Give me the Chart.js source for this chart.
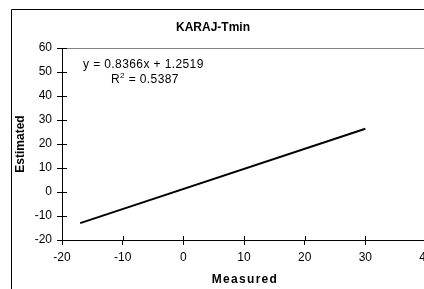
<!DOCTYPE html>
<html>
<head>
<meta charset="utf-8">
<script src="https://cdn.jsdelivr.net/npm/chart.js@4/dist/chart.umd.min.js"></script>
<style>
  html, body { margin: 0; padding: 0; background: #fff; overflow: hidden; }
  #wrap { width: 444px; height: 289px; }
</style>
</head>
<body>
<div id="wrap"><canvas id="chart"></canvas></div>
<script>
/* Trend line end points */
const measured = [-17, 30];
const estimated = [-12.97, 26.35];

const xTicks = [-20, -10, 0, 10, 20, 30, 40];
const yTicks = [-20, -10, 0, 10, 20, 30, 40, 50, 60];

const equationText = 'y = 0.8366x + 1.2519';
const r2Value = '0.5387';

const FONT = "'Liberation Sans', Arial, sans-serif";

/* Excel style frame, crossing tick marks, equation and x title */
const excelDecor = {
    id: 'excelDecor',
    beforeDraw(chart) {
        const ctx = chart.ctx;
        ctx.save();
        ctx.strokeStyle = '#000';
        ctx.lineWidth = 1;
        ctx.beginPath();
        ctx.moveTo(11.5, chart.height + 2);
        ctx.lineTo(11.5, 9.5);
        ctx.lineTo(chart.width + 2, 9.5);
        ctx.stroke();
        ctx.restore();
    },
    afterDraw(chart) {
        const ctx = chart.ctx;
        const area = chart.chartArea;
        const xs = chart.scales.x;
        const ys = chart.scales.y;
        ctx.save();

        // plot area top / right border
        ctx.strokeStyle = '#808080';
        ctx.lineWidth = 1;
        ctx.beginPath();
        ctx.moveTo(Math.round(area.left) + 0.5, Math.round(area.top) + 0.5);
        ctx.lineTo(Math.round(area.right) + 0.5, Math.round(area.top) + 0.5);
        ctx.lineTo(Math.round(area.right) + 0.5, Math.round(area.bottom) + 0.5);
        ctx.stroke();

        // inner halves of the crossing tick marks
        ctx.strokeStyle = '#000';
        ctx.beginPath();
        yTicks.forEach(v => {
            const py = Math.round(ys.getPixelForValue(v)) + 0.5;
            ctx.moveTo(Math.round(area.left), py);
            ctx.lineTo(Math.round(area.left) + 5, py);
        });
        xTicks.forEach(v => {
            const px = Math.round(xs.getPixelForValue(v)) + 0.5;
            ctx.moveTo(px, Math.round(area.bottom));
            ctx.lineTo(px, Math.round(area.bottom) - 4);
        });
        ctx.stroke();

        // regression equation
        ctx.fillStyle = '#000';
        ctx.textBaseline = 'middle';
        ctx.textAlign = 'left';
        ctx.letterSpacing = '0.4px';
        ctx.font = '12px ' + FONT;
        ctx.fillText(equationText, 83, 65);
        let x = 111;
        ctx.fillText('R', x, 80);
        x += ctx.measureText('R').width;
        ctx.font = '8px ' + FONT;
        ctx.fillText('2', x, 76);
        x += ctx.measureText('2').width;
        ctx.font = '12px ' + FONT;
        ctx.fillText(' = ' + r2Value, x, 80);

        // x axis title with wide letter spacing
        ctx.font = 'bold 12px ' + FONT;
        ctx.textAlign = 'center';
        ctx.letterSpacing = '1.3px';
        ctx.fillText('Measured', (area.left + area.right) / 2 + 1, 280);
        ctx.restore();
    }
};

new Chart(document.getElementById('chart'), {
    type: 'scatter',
    data: {
        datasets: [{
            label: 'Trend',
            data: measured.map((m, i) => ({ x: m, y: estimated[i] })),
            showLine: true,
            borderColor: '#000',
            borderWidth: 2,
            pointRadius: 0,
            fill: false,
        }],
    },
    options: {
        responsive: true,
        maintainAspectRatio: false,
        animation: false,
        layout: { padding: { left: 0, right: 18, top: 0, bottom: 0 } },
        plugins: {
            legend: { display: false },
            tooltip: { enabled: false },
            title: {
                display: true,
                text: 'KARAJ-Tmin',
                color: '#000',
                font: { family: FONT, size: 12, weight: 'bold' },
                padding: { top: 20.8, bottom: 12.8 },
            },
        },
        scales: {
            x: {
                type: 'linear',
                min: -20,
                max: 40,
                afterBuildTicks: s => { s.ticks = xTicks.map(v => ({ value: v })); },
                afterFit: s => { s.height = 49; },
                grid: { drawOnChartArea: false, color: '#000', tickLength: 5 },
                border: { display: true, color: '#000', width: 1 },
                ticks: {
                    color: '#000',
                    font: { family: FONT, size: 12 },
                    padding: 5,
                    maxRotation: 0,
                },
            },
            y: {
                type: 'linear',
                min: -20,
                max: 60,
                afterBuildTicks: s => { s.ticks = yTicks.map(v => ({ value: v })); },
                afterFit: s => { s.width = 62; },
                grid: { drawOnChartArea: false, color: '#000', tickLength: 5 },
                border: { display: true, color: '#000', width: 1 },
                ticks: {
                    color: '#000',
                    font: { family: FONT, size: 12 },
                    padding: 5,
                },
                title: {
                    display: true,
                    text: 'Estimated',
                    color: '#000',
                    font: { family: FONT, size: 12, weight: 'bold' },
                    padding: { top: 13, bottom: 0 },
                },
            },
        },
    },
    plugins: [excelDecor],
});
</script>
</body>
</html>
